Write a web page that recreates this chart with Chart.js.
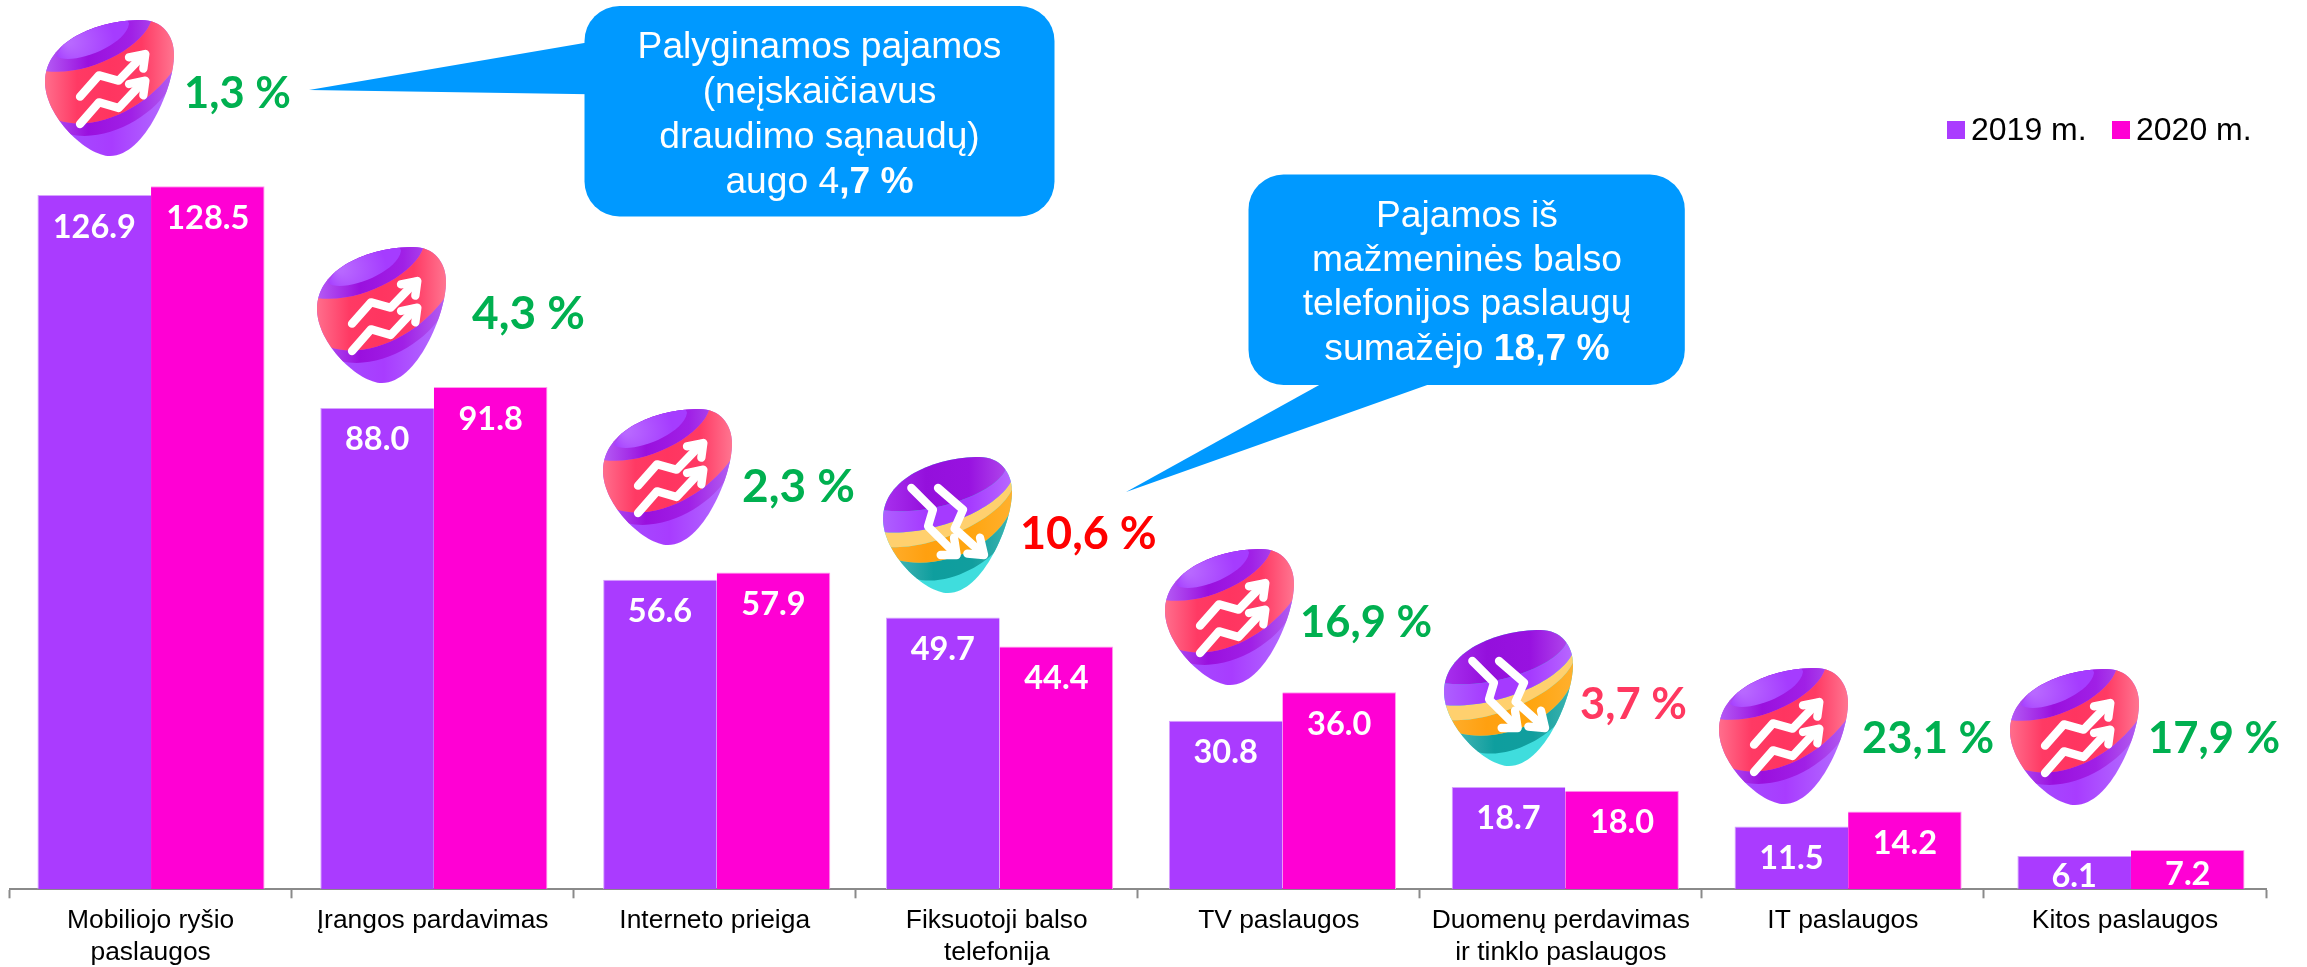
<!DOCTYPE html>
<html lang="lt">
<head>
<meta charset="utf-8">
<title>Pajamos</title>
<style>html,body{margin:0;padding:0;background:#fff}canvas{display:block}</style>
<script src="https://cdn.jsdelivr.net/npm/chart.js@4/dist/chart.umd.min.js"></script>
</head>
<body>
<canvas id="c" width="2307" height="967"></canvas>
<script>
const categories = [
  ['Mobiliojo ryšio', 'paslaugos'], 'Įrangos pardavimas', 'Interneto prieiga',
  ['Fiksuotoji balso', 'telefonija'], 'TV paslaugos',
  ['Duomenų perdavimas', 'ir tinklo paslaugos'], 'IT paslaugos', 'Kitos paslaugos'
];
const seriesNames = ['2019 m.', '2020 m.'];
const values2019 = [126.9, 88.0, 56.6, 49.7, 30.8, 18.7, 11.5, 6.1];
const values2020 = [128.5, 91.8, 57.9, 44.4, 36.0, 18.0, 14.2, 7.2];
const changeLabels = ['1,3 %', '4,3 %', '2,3 %', '10,6 %', '16,9 %', '3,7 %', '23,1 %', '17,9 %'];
const changeDirections = ['up', 'up', 'up', 'down', 'up', 'down', 'up', 'up'];
const calloutOne = [[['Palyginamos pajamos', 0]], [['(neįskaičiavus', 0]], [['draudimo sąnaudų)', 0]], [['augo 4', 0], [',7 %', 1]]];
const calloutTwo = [[['Pajamos iš', 0]], [['mažmeninės balso', 0]], [['telefonijos paslaugų', 0]], [['sumažėjo ', 0], ['18,7 %', 1]]];

const PURPLE = '#AA3BFF', MAGENTA = '#FF00D4', BLUE = '#0099FF';
const SANS = '"Liberation Sans", Arial, sans-serif';
const ROUND = 'Lato, "Open Sans", sans-serif';

/* Annotation placement (page pixels) */
const eggBoxes = [[45,20],[317,247],[603,409],[883,457],[1165,549],[1444,630],[1719,668],[2010,669]];
const changeAnchors = [[184,108],[472,329],[742,502],[1020,549],[1300,637],[1580,719],[1862,753],[2148,753]];
const changeSizes = [43.5,46,46,45,43.5,43.5,43.5,43.5];
const changeColors = {up:'#00B050', down:'#FF0000', soft:'#FF3860'};

/* The reference's bars step slightly wider than its axis ticks, so the bars sit on a hidden category axis of their own. */
class BarCategoryScale extends Chart.CategoryScale {
  configure(){ super.configure(); this._length = this.options.barSpan; }
}
BarCategoryScale.id = 'barCategory';
BarCategoryScale.defaults = Chart.CategoryScale.defaults;
Chart.register(BarCategoryScale);

function hGrad(ctx, x0, x1, stops){
  const g = ctx.createLinearGradient(x0,0,x1,0);
  stops.forEach((c,i)=>g.addColorStop(i/(stops.length-1),c));
  return g;
}
function eggPath(ctx){
  ctx.beginPath();
  ctx.moveTo(335,30);
  ctx.bezierCurveTo(395,30,432,75,432,135);
  ctx.bezierCurveTo(432,230,345,438,240,438);
  ctx.bezierCurveTo(170,438,45,320,45,215);
  ctx.bezierCurveTo(45,95,200,30,335,30);
  ctx.closePath();
}
function band(ctx, fill, a, b){
  ctx.beginPath();
  if(a){ ctx.moveTo(a[0],a[1]); ctx.bezierCurveTo(a[2],a[3],a[4],a[5],a[6],a[7]); ctx.lineTo(500,a[7]-40); }
  else { ctx.moveTo(0,0); ctx.lineTo(500,0); }
  ctx.lineTo(500,b[7]);
  ctx.lineTo(b[6],b[7]);
  ctx.bezierCurveTo(b[4],b[5],b[2],b[3],b[0],b[1]);
  ctx.lineTo(0,b[1]);
  ctx.lineTo(0,a?a[1]:0);
  ctx.closePath();
  ctx.fillStyle = fill;
  ctx.fill();
}
function arrowLines(ctx, lines){
  ctx.strokeStyle = '#fff'; ctx.lineWidth = 25; ctx.lineCap = 'round'; ctx.lineJoin = 'round';
  lines.forEach(l=>{
    ctx.beginPath();
    l.forEach((p,i)=> i?ctx.lineTo(p[0],p[1]):ctx.moveTo(p[0],p[1]));
    ctx.stroke();
  });
}
function drawEgg(ctx, x, y, dir){
  ctx.save();
  ctx.translate(x - 45/3, y - 30/3);
  ctx.scale(1/3, 1/3);
  ctx.save();
  eggPath(ctx); ctx.clip();
  if(dir === 'up'){
    const violet = hGrad(ctx,45,432,['#B45CF5','#9A10DE','#A020E6','#B260F0']);
    ctx.fillStyle = hGrad(ctx,60,430,['#A550FF','#A83CFF','#B470FF']);
    ctx.fillRect(0,0,500,500);
    const redTop=[40,182,170,205,345,110,365,28], redBot=[80,330,200,370,360,290,440,165], darkBot=[115,372,230,400,370,320,425,225];
    band(ctx, violet, redBot, darkBot);
    band(ctx, violet, null, redTop);
    const g = ctx.createRadialGradient(115,95,10,190,95,150);
    g.addColorStop(0,'#B868FF'); g.addColorStop(.6,'#A53CFF'); g.addColorStop(1,'#A53CFF');
    ctx.beginPath(); ctx.moveTo(78,138);
    ctx.bezierCurveTo(120,170,285,110,297,42);
    ctx.bezierCurveTo(295,10,180,20,120,70);
    ctx.closePath(); ctx.fillStyle = g; ctx.fill();
    band(ctx, hGrad(ctx,45,432,['#FF6E8C','#FF3A64','#FF3560','#FF3A64','#FF7590']), redTop, redBot);
    arrowLines(ctx, [
      [[150,260],[207,196],[266,212],[340,135]], [[297,142],[346,132],[340,176]],
      [[150,342],[207,277],[266,294],[340,215]], [[297,222],[346,212],[340,256]]
    ]);
  } else {
    ctx.fillStyle = '#3FDDDD'; ctx.fillRect(0,0,500,500);
    const e1=[45,190,200,210,400,130,415,60], e2=[45,255,200,270,405,180,435,90],
          e3=[65,300,200,310,405,210,435,120], e4=[90,340,220,370,385,300,430,185], e5=[140,395,230,420,345,360,395,300];
    band(ctx, hGrad(ctx,80,430,['#45B4B4','#0E9E9E','#119E9E','#40B4B0']), e4, e5);
    band(ctx, hGrad(ctx,45,432,['#FFB030','#FFA010','#FFA50F','#FFB02E']), e3, e4);
    band(ctx, '#FFD06E', e2, e3);
    band(ctx, hGrad(ctx,45,432,['#AE60FF','#A53AFF','#A53AFF','#B868FF']), e1, e2);
    band(ctx, hGrad(ctx,45,432,['#A830EE','#9410DC','#9812E0','#B24CEC']), null, e1);
    arrowLines(ctx, [
      [[130,123],[195,188],[180,238],[264,322]], [[218,324],[266,324],[258,272]],
      [[210,123],[285,188],[260,245],[346,322]], [[298,320],[348,324],[336,272]]
    ]);
  }
  ctx.restore();
  ctx.restore();
}
function drawCallout(ctx, l, t, r, b, rad, tail, lines, baselines, cx){
  ctx.fillStyle = BLUE;
  ctx.beginPath();
  ctx.roundRect(l, t, r-l, b-t, rad);
  ctx.fill();
  ctx.beginPath();
  tail.forEach((p,i)=> i?ctx.lineTo(p[0],p[1]):ctx.moveTo(p[0],p[1]));
  ctx.closePath(); ctx.fill();
  ctx.fillStyle = '#fff';
  ctx.textBaseline = 'alphabetic'; ctx.textAlign = 'left';
  lines.forEach((runs,i)=>{
    let w = 0;
    runs.forEach(r0=>{ ctx.font = (r0[1]?'bold ':'') + '37.2px ' + SANS; w += ctx.measureText(r0[0]).width; });
    let x = cx - w/2;
    runs.forEach(r0=>{ ctx.font = (r0[1]?'bold ':'') + '37.2px ' + SANS; ctx.fillText(r0[0],x,baselines[i]); x += ctx.measureText(r0[0]).width; });
  });
}

const annotations = {
  id: 'annotations',
  beforeDraw(chart){
    const c = chart.ctx; c.save(); c.fillStyle = '#fff'; c.fillRect(0,0,chart.width,chart.height); c.restore();
  },
  afterDatasetsDraw(chart){
    const ctx = chart.ctx;
    ctx.save();
    ctx.font = 'bold 32.5px ' + ROUND;
    ctx.fillStyle = '#fff'; ctx.textAlign = 'center'; ctx.textBaseline = 'middle';
    chart.data.datasets.forEach((ds,di)=>{
      chart.getDatasetMeta(di).data.forEach((bar,i)=>{
        const h = bar.base - bar.y;
        ctx.fillText(ds.data[i].toFixed(1), bar.x, bar.y + Math.min(32, h*0.62));
      });
    });
    changeLabels.forEach((t,i)=>{
      drawEgg(ctx, eggBoxes[i][0], eggBoxes[i][1], changeDirections[i]);
      ctx.font = 'bold ' + changeSizes[i] + 'px ' + ROUND;
      ctx.textAlign = 'left'; ctx.textBaseline = 'alphabetic';
      ctx.fillStyle = i===5 ? changeColors.soft : changeColors[changeDirections[i]];
      ctx.fillText(t, changeAnchors[i][0], changeAnchors[i][1]);
    });
    const legendAt = [[1947,1971],[2112,2136]];
    ctx.font = '32px ' + SANS; ctx.textAlign='left'; ctx.textBaseline='alphabetic';
    chart.data.datasets.forEach((ds,di)=>{
      ctx.fillStyle = ds.backgroundColor;
      ctx.fillRect(legendAt[di][0],121,18,18);
      ctx.fillStyle = '#000';
      ctx.fillText(ds.label, legendAt[di][1],140);
    });
    drawCallout(ctx,584.5,6,1054.5,216.5,35,[[309,90],[590,42],[590,94.3]],calloutOne,[58.3,103,147.7,192.5],819.5);
    drawCallout(ctx,1248.5,174.5,1684.8,385,35,[[1126,492],[1321,384],[1430,384]],calloutTwo,[226.7,270.7,315,360],1467);
    ctx.restore();
  }
};

new Chart(document.getElementById('c'), {
  type: 'bar',
  data: {
    labels: categories,
    datasets: [
      {label: seriesNames[0], data: values2019, xAxisID: 'bars', backgroundColor: PURPLE, borderColor: '#D7A2FF', borderWidth: {top:1,left:1,right:0,bottom:0}, borderSkipped: false},
      {label: seriesNames[1], data: values2020, xAxisID: 'bars', backgroundColor: MAGENTA, borderColor: '#FF9CEE', borderWidth: {top:1,right:1,left:0,bottom:0}, borderSkipped: false}
    ]
  },
  options: {
    responsive: false,
    animation: false,
    events: [],
    layout: {padding: {top: 14, left: 9.6, right: 41, bottom: 0}},
    categoryPercentage: 0.803,
    barPercentage: 1,
    plugins: {legend: {display: false}, tooltip: {enabled: false}, title: {display: false}},
    scales: {
      x: {
        type: 'category',
        labels: categories,
        offset: true,
        afterFit(s){ s.height = 77.7; },
        border: {color: '#8A8A8A', width: 2},
        grid: {offset: true, drawOnChartArea: false, drawTicks: true, tickLength: 9, tickColor: '#8A8A8A', tickWidth: 2},
        ticks: {color: '#000', font: {family: SANS, size: 26.4, lineHeight: 1.2}, padding: 7, maxRotation: 0, minRotation: 0, autoSkip: false}
      },
      bars: {type: 'barCategory', axis: 'x', position: 'bottom', labels: categories, offset: true, display: false, barSpan: 2262.8, grid: {offset: true}},
      y: {display: false, min: 0, max: 160}
    }
  },
  plugins: [annotations]
});
</script>
</body>
</html>
